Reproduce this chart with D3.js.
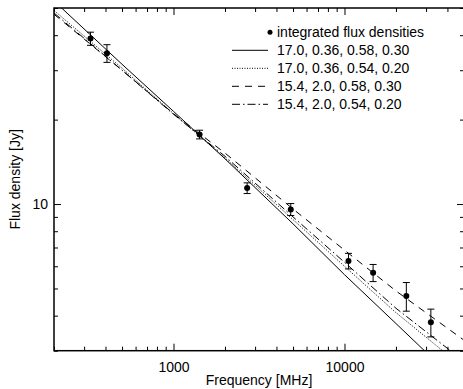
<!DOCTYPE html>
<html>
<head>
<meta charset="utf-8">
<script src="https://cdn.jsdelivr.net/npm/d3@7"></script>
<style>
	body { margin: 0; background: #fff; }
	svg text { font-family: "Liberation Sans", Arial, sans-serif; fill: #000; }
</style>
</head>
<body>
<div id="chart"></div>
<script>
// measured flux densities
const freqMHz = [327, 408, 1420, 2695, 4850, 10550, 14700, 23000, 32000];
const fluxJy = [38.9, 34.5, 17.7, 11.4, 9.57, 6.27, 5.69, 4.70, 3.79];
const fluxErr = [2.1, 2.5, 0.63, 0.5, 0.47, 0.4, 0.4, 0.55, 0.43];

// model curves
const modelFreq = [200, 500, 1000, 2000, 5000, 10000, 20000, 50000];
const modelA = [53, 31.5, 21.4, 14.5, 8.5, 5.6, 3.75, 2.2];     // solid
const modelB = [49, 30.5, 21.0, 14.6, 8.8, 6.0, 4.1, 2.6];      // dotted
const modelC = [47.5, 30, 21.0, 15.2, 9.6, 6.85, 4.9, 3.27];    // dashed
const modelD = [48, 30, 20.9, 14.8, 9.0, 6.2, 4.25, 2.75];      // dash-dot

const legendLabels = ["17.0, 0.36, 0.58, 0.30", "17.0, 0.36, 0.54, 0.20",
	"15.4, 2.0, 0.58, 0.30", "15.4, 2.0, 0.54, 0.20"];

const xTicksMajor = [1000, 10000];
const yTicksMajor = [10];

const W = 463, H = 389;
const margin = {top: 8, right: -1, bottom: 38.3, left: 54};
const width = W - margin.left - margin.right;
const height = H - margin.top - margin.bottom;

const svg = d3.select("#chart").append("svg")
	.attr("width", W)
	.attr("height", H);

const g = svg.append("g")
	.attr("transform", `translate(${margin.left},${margin.top})`);

const x = d3.scaleLog().domain([200, 50000]).range([0, width]);
const y = d3.scaleLog().domain([3, 50]).range([height, 0]);

g.append("clipPath").attr("id", "clip")
	.append("rect").attr("width", width).attr("height", height);

// minor ticks
const xMinor = [];
[100, 1000, 10000].forEach(d => { for (let k = 2; k <= 9; k++) { const v = d * k; if (v >= 200 && v <= 50000) xMinor.push(v); } });
const yMinor = [3, 4, 5, 6, 7, 8, 9, 20, 30, 40, 50];

function drawTicks(sel, axis) {
	sel.call(axis);
	sel.select(".domain").remove();
	sel.selectAll("line").attr("stroke", "#000").attr("stroke-width", 1);
}

// bottom
drawTicks(g.append("g").attr("transform", `translate(0,${height})`),
	d3.axisBottom(x).tickValues(xMinor).tickSizeInner(-4).tickSizeOuter(0).tickFormat(""));
const xb = g.append("g").attr("transform", `translate(0,${height})`);
drawTicks(xb, d3.axisBottom(x).tickValues(xTicksMajor).tickSizeInner(-7).tickSizeOuter(0)
	.tickPadding(11).tickFormat(d3.format("d")));
xb.selectAll("text").style("font-size", "14px");
// top
drawTicks(g.append("g"), d3.axisTop(x).tickValues(xMinor).tickSizeInner(-4).tickSizeOuter(0).tickFormat(""));
drawTicks(g.append("g"), d3.axisTop(x).tickValues(xTicksMajor).tickSizeInner(-7).tickSizeOuter(0).tickFormat(""));
// left
drawTicks(g.append("g"), d3.axisLeft(y).tickValues(yMinor).tickSizeInner(-4).tickSizeOuter(0).tickFormat(""));
const yl = g.append("g");
drawTicks(yl, d3.axisLeft(y).tickValues(yTicksMajor).tickSizeInner(-7).tickSizeOuter(0)
	.tickPadding(6).tickFormat(d3.format("d")));
yl.selectAll("text").style("font-size", "14px");
// right
drawTicks(g.append("g").attr("transform", `translate(${width},0)`),
	d3.axisRight(y).tickValues(yMinor).tickSizeInner(-4).tickSizeOuter(0).tickFormat(""));
drawTicks(g.append("g").attr("transform", `translate(${width},0)`),
	d3.axisRight(y).tickValues(yTicksMajor).tickSizeInner(-7).tickSizeOuter(0).tickFormat(""));

// frame
g.append("rect")
	.attr("width", width).attr("height", height)
	.attr("fill", "none").attr("stroke", "#000").attr("stroke-width", 1.5);

// model lines
const styles = [
	{data: modelA, dash: null},
	{data: modelB, dash: "1,1.5"},
	{data: modelC, dash: "7,6"},
	{data: modelD, dash: "8,3,1.5,3"}
];

const line = d3.line().x(d => x(d[0])).y(d => y(d[1]));

styles.forEach(s => {
	g.append("path")
		.datum(modelFreq.map((f, i) => [f, s.data[i]]))
		.attr("clip-path", "url(#clip)")
		.attr("d", line)
		.attr("fill", "none")
		.attr("stroke", "#000")
		.attr("stroke-width", 1)
		.attr("stroke-dasharray", s.dash);
});

// data points with error bars
const pts = freqMHz.map((f, i) => ({f: f, s: fluxJy[i], e: fluxErr[i]}));
const pg = g.selectAll(".pt").data(pts).enter().append("g").attr("class", "pt");
pg.append("line")
	.attr("x1", d => x(d.f)).attr("x2", d => x(d.f))
	.attr("y1", d => y(d.s - d.e)).attr("y2", d => y(d.s + d.e))
	.attr("stroke", "#000").attr("stroke-width", 1);
[-1, 1].forEach(sgn => {
	pg.append("line")
		.attr("x1", d => x(d.f) - 3.5).attr("x2", d => x(d.f) + 3.5)
		.attr("y1", d => y(d.s + sgn * d.e)).attr("y2", d => y(d.s + sgn * d.e))
		.attr("stroke", "#000").attr("stroke-width", 1);
});
pg.append("circle")
	.attr("cx", d => x(d.f)).attr("cy", d => y(d.s))
	.attr("r", 3).attr("fill", "#000");

// legend
const legend = g.append("g").attr("transform", `translate(${232 - margin.left},${32.3 - margin.top})`);
legend.append("circle").attr("cx", 270 - 232).attr("cy", 0).attr("r", 2.5).attr("fill", "#000");
legend.append("text").attr("x", 277 - 232).attr("y", 5).style("font-size", "14px")
	.text("integrated flux densities");
styles.forEach((s, i) => {
	const ly = (i + 1) * 18;
	legend.append("line")
		.attr("x1", 0).attr("x2", 36).attr("y1", ly).attr("y2", ly)
		.attr("stroke", "#000").attr("stroke-width", 1)
		.attr("stroke-dasharray", s.dash);
	legend.append("text").attr("x", 277 - 232).attr("y", ly + 5).style("font-size", "14px")
		.text(legendLabels[i]);
});

// axis titles
svg.append("text")
	.attr("x", margin.left + 205).attr("y", 385)
	.attr("text-anchor", "middle").style("font-size", "14px")
	.text("Frequency [MHz]");
svg.append("text")
	.attr("transform", `translate(20,${margin.top + height / 2}) rotate(-90)`)
	.attr("text-anchor", "middle").style("font-size", "14px")
	.text("Flux density [Jy]");
</script>
</body>
</html>
